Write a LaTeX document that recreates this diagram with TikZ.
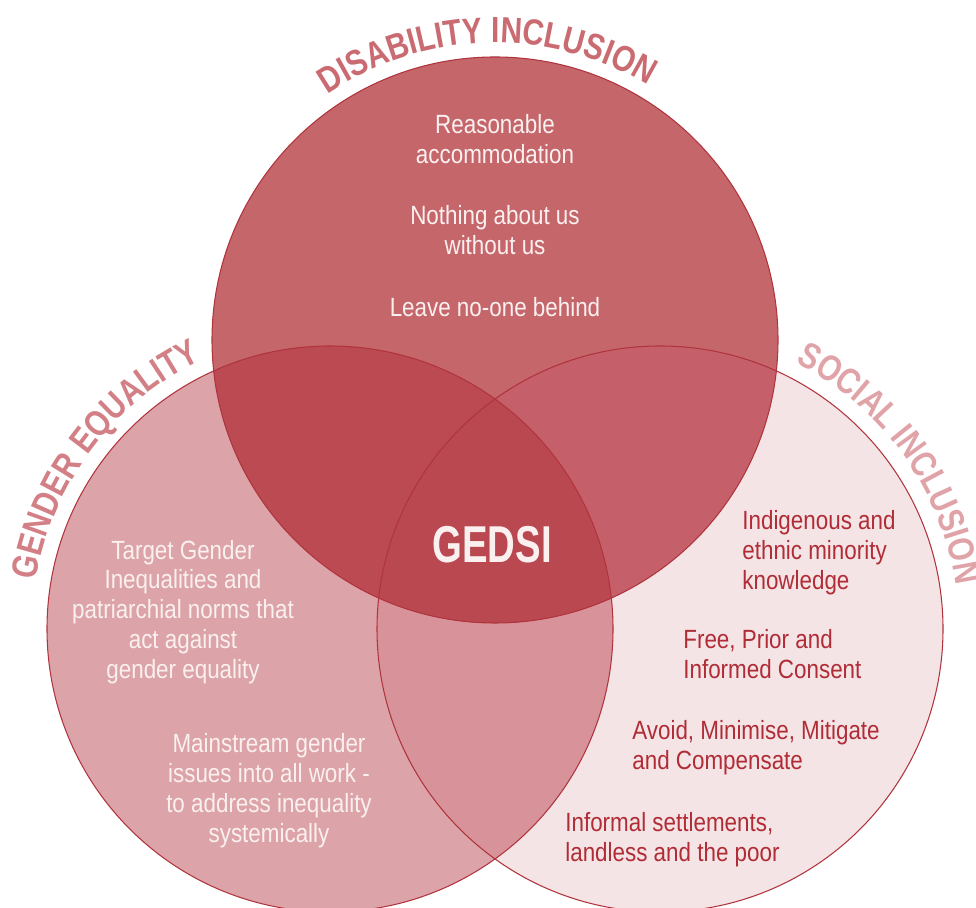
\documentclass[tikz,border=0pt]{standalone}
\usepackage{fontspec}
\setmainfont{Liberation Sans}[FakeStretch=0.85]
\newfontfamily\headfont{Liberation Sans}[FakeStretch=0.82]
\newfontfamily\gedsifont{Liberation Sans}[FakeStretch=0.74]
\usetikzlibrary{decorations.text}
\definecolor{TopFill}{HTML}{C5666B}
\definecolor{LeftFill}{HTML}{DCA4A8}
\definecolor{RightFill}{HTML}{F5E4E5}
\definecolor{LeftRight}{HTML}{D8939A}
\definecolor{TopLeft}{HTML}{BC4A52}
\definecolor{TopRight}{HTML}{C5606A}
\definecolor{Core}{HTML}{BA4850}
\definecolor{Edge}{HTML}{B0343D}
\definecolor{Blush}{HTML}{FBF0F0}
\definecolor{Crimson}{HTML}{B02C37}
\definecolor{HeadTop}{HTML}{CA6B72}
\definecolor{HeadLeft}{HTML}{D27F86}
\definecolor{HeadRight}{HTML}{DFA3A8}
\newcommand{\disc}[1]{(#1) circle[radius=283]}
% heading along an arc: centre, radius, middle angle, colour, text
\newcommand{\archead}[5]{%
  \path[decorate,decoration={text along path,text align=center,text color=#4,
      text={|\headfont\bfseries\fontsize{20.7}{24}\selectfont|#5}}]
    ([shift={(#3+60:#2)}]#1) arc[start angle=#3+60,end angle=#3-60,radius=#2];
}

\begin{document}
\begin{tikzpicture}[x=0.02cm,y=0.02cm,
    lighttext/.style={text=Blush,align=center,inner sep=0pt,font=\fontsize{15}{17}\selectfont},
    darktext/.style={text=Crimson,align=left,anchor=west,inner sep=0pt,font=\fontsize{15}{17}\selectfont},
    ring/.style={draw=Edge,line width=0.6pt}]
  \useasboundingbox (0,0) rectangle (976,908);
  \coordinate (T) at (495,568);
  \coordinate (L) at (330,279);
  \coordinate (R) at (660,279);

  % plain discs, then the overlaps on top
  \fill[RightFill] \disc{R};
  \fill[LeftFill] \disc{L};
  \begin{scope}
    \clip \disc{L};
    \fill[LeftRight] \disc{R};
  \end{scope}
  \fill[TopFill] \disc{T};
  \begin{scope}
    \clip \disc{T};
    \fill[TopLeft] \disc{L};
    \fill[TopRight] \disc{R};
    \clip \disc{L};
    \fill[Core] \disc{R};
  \end{scope}
  \foreach \c in {T,L,R}{\path[ring] \disc{\c};}

  % headings
  \archead{T}{297}{91.6}{HeadTop}{DISABILITY INCLUSION}
  \archead{L}{298}{143.1}{HeadLeft}{GENDER EQUALITY}
  \archead{R}{299}{35.7}{HeadRight}{SOCIAL INCLUSION}

  \node[text=Blush,inner sep=0pt,font=\gedsifont\bfseries\fontsize{29.5}{32}\selectfont] (gedsi) at (492,363) {GEDSI};

  \node[lighttext] (reasonable) at (495,769) {Reasonable\\accommodation};
  \node[lighttext] (nothing) at (495,677.5) {Nothing about us\\without us};
  \node[lighttext] (leave) at (495,601) {Leave no-one behind};

  \node[lighttext] (target) at (183,296) {Target Gender\\Inequalities and\\patriarchial norms that\\act against\\gender equality};
  \node[lighttext] (mainstream) at (269,117.5) {Mainstream gender\\issues into all work -\\to address inequality\\systemically};

  \node[darktext] (indigenous) at (742,355.5) {Indigenous and\\ethnic minority\\knowledge};
  \node[darktext] (fpic) at (683,254) {Free, Prior and\\Informed Consent};
  \node[darktext] (avoid) at (632,160.5) {Avoid, Minimise, Mitigate\\and Compensate};
  \node[darktext] (informal) at (565,68.5) {Informal settlements,\\landless and the poor};
\end{tikzpicture}
\end{document}
